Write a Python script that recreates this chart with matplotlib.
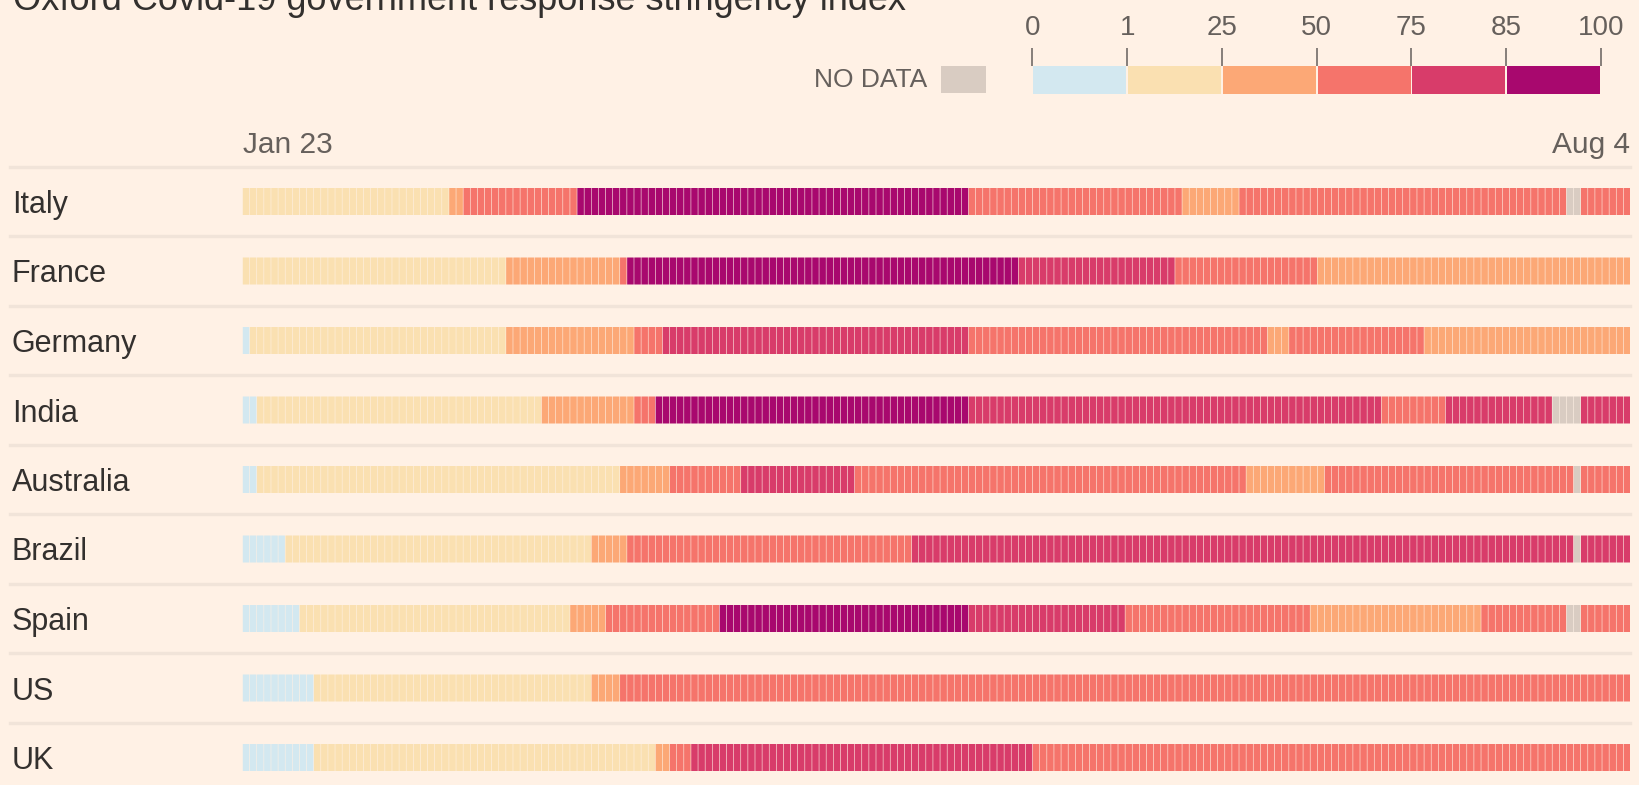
import numpy as np
import matplotlib.pyplot as plt
from matplotlib import transforms
from matplotlib.patches import Rectangle

plt.rcParams['font.family'] = ['Liberation Sans', 'DejaVu Sans']

# stringency bands; -1 means no data
bins = ['0', '1', '25', '50', '75', '85', '100']
countries = ['Italy', 'France', 'Germany', 'India', 'Australia',
             'Brazil', 'Spain', 'US', 'UK']

# runs of (band, number of days), Jan 23 - Aug 4
italy = [(1, 29), (2, 2), (3, 16), (5, 55), (3, 30), (2, 8), (3, 46), (-1, 2), (3, 7)]
france = [(1, 37), (2, 16), (3, 1), (5, 55), (4, 22), (3, 20), (2, 44)]
germany = [(0, 1), (1, 36), (2, 18), (3, 4), (4, 43), (3, 42), (2, 3), (3, 19), (2, 29)]
india = [(0, 2), (1, 40), (2, 13), (3, 3), (5, 44), (4, 58), (3, 9), (4, 15), (-1, 4), (4, 7)]
australia = [(0, 2), (1, 51), (2, 7), (3, 10), (4, 16), (3, 55), (2, 11), (3, 35), (-1, 1), (3, 7)]
brazil = [(0, 6), (1, 43), (2, 5), (3, 40), (4, 93), (-1, 1), (4, 7)]
spain = [(0, 8), (1, 38), (2, 5), (3, 16), (5, 35), (4, 22), (3, 26), (2, 24), (3, 12), (-1, 2), (3, 7)]
us = [(0, 10), (1, 39), (2, 4), (3, 142)]
uk = [(0, 10), (1, 48), (2, 2), (3, 3), (4, 48), (3, 84)]
rows = [italy, france, germany, india, australia, brazil, spain, us, uk]

BG = '#FFF1E5'
band_colors = ['#D3E8F0', '#FAE0B1', '#FCA876', '#F5746B', '#D83C6A', '#A8086E']
nodata_color = '#D9CCC2'
sep_color = '#F1E4D9'
dark = '#33302E'
grey = '#66605C'

W, H = 1640, 785


def fx(px):
    return px / W


def fy(py):
    return 1 - py / H


fig = plt.figure(figsize=(16.4, 7.85), dpi=100, facecolor=BG)

top, step = 166.75, 69.5
bottom = top + step * len(rows)
ax = fig.add_axes([fx(242.5), fy(bottom), (1630.5 - 242.5) / W, (bottom - top) / H])
ax.set_facecolor('none')
ax.set_xlim(0, 195)
ax.set_ylim(len(rows) - 0.5, -0.5)
ax.axis('off')

bar_h = 27 / step
for i, runs in enumerate(rows):
    levels = np.repeat([r[0] for r in runs], [r[1] for r in runs])
    days = np.arange(len(levels))
    cols = [nodata_color if l < 0 else band_colors[l] for l in levels]
    ax.bar(days + 0.04, bar_h, width=0.92, bottom=i - bar_h / 2,
           color=cols, align='edge', linewidth=0, snap=False)

# separators and country names
blend = transforms.blended_transform_factory(fig.transFigure, ax.transData)
for i, name in enumerate(countries):
    ax.plot([fx(10), fx(1630)], [i - 0.5, i - 0.5], transform=blend,
            color=sep_color, lw=2.4, clip_on=False, zorder=0)
    ax.text(fx(12), i, name, transform=blend, fontsize=22, color=dark,
            va='center_baseline', ha='left')

fig.text(fx(243), fy(153.3), 'Jan 23', fontsize=21.5, color=grey, va='baseline', ha='left')
fig.text(fx(1630), fy(153.3), 'Aug 4', fontsize=21.5, color=grey, va='baseline', ha='right')

fig.text(fx(13), fy(9.5), 'Oxford Covid-19 government response stringency index',
         fontsize=26, color=dark, va='baseline', ha='left')

# colour key
lax = fig.add_axes([fx(1032.5), fy(93.5), (1601 - 1032.5) / W, (93.5 - 65.7) / H])
lax.set_facecolor('none')
lax.bar(np.arange(6) + 0.01, 1, width=0.98, align='edge', color=band_colors, linewidth=0)
lax.set_xlim(0, 6)
lax.set_ylim(0, 1)
for s in lax.spines.values():
    s.set_visible(False)
lax.xaxis.tick_top()
lax.set_xticks(range(7))
lax.set_xticklabels(bins)
lax.set_yticks([])
lax.tick_params(axis='x', length=13, width=1.1, color=grey, pad=4.5,
                labelsize=20, labelcolor=grey)

fig.add_artist(Rectangle((fx(941.3), fy(93.3)), (986.3 - 941.3) / W, (93.3 - 65.7) / H,
                         transform=fig.transFigure, color=nodata_color, lw=0))
fig.text(fx(927), fy(87.3), 'NO DATA', fontsize=19, color=grey, va='baseline', ha='right')

fig.savefig('out.png', dpi=100, facecolor=BG)
